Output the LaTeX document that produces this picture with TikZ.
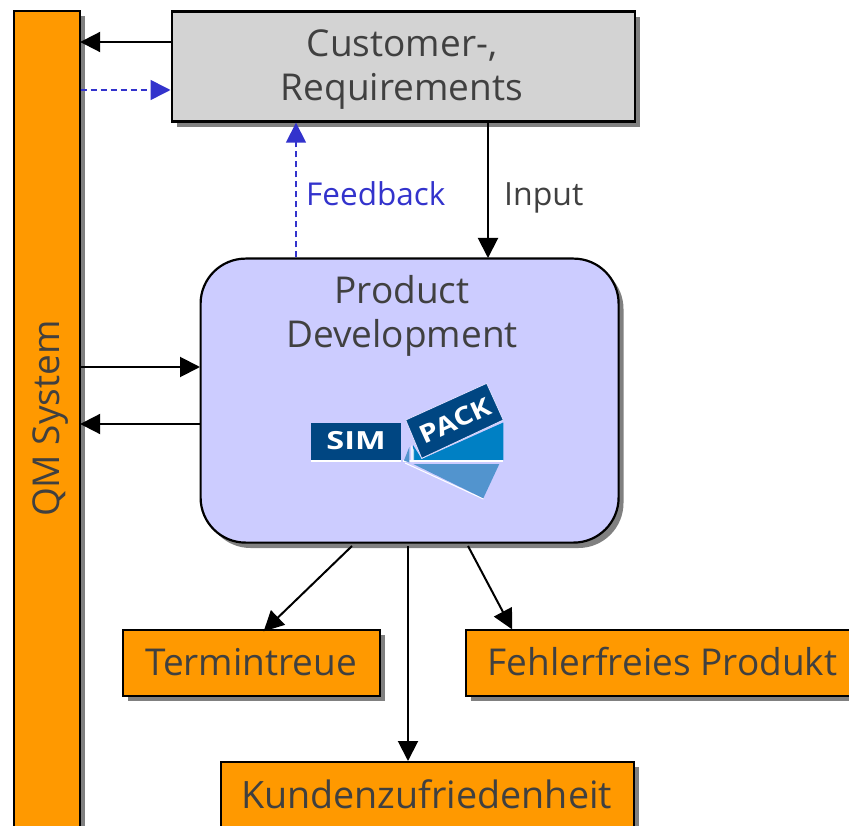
\documentclass[tikz,border=0pt]{standalone}
\usepackage{fontspec}
\usepackage{graphicx}
\setmainfont{Open Sans}
\usetikzlibrary{arrows.meta,calc}
\definecolor{qmorange}{RGB}{255,153,0}
\definecolor{boxgray}{RGB}{211,211,211}
\definecolor{devblue}{RGB}{204,204,255}
\definecolor{shadowgray}{RGB}{128,128,128}
\definecolor{labeltext}{RGB}{64,64,64}
\definecolor{fbblue}{RGB}{51,51,204}
\definecolor{simdark}{RGB}{0,70,130}
\definecolor{simmid}{RGB}{0,128,196}
\definecolor{simlight}{RGB}{82,148,206}
\tikzset{
  x=1pt,y=-1pt,
  shad/.style={fill=shadowgray,draw=none},
  boxnode/.style={draw=black,line width=2.2pt,minimum width=#1,text=labeltext,font=\fontsize{37}{44}\selectfont,inner sep=0pt,align=center},
  boxtext/.style={font=\fontsize{37}{44}\selectfont,text=labeltext,inner sep=0pt,align=center},
  arr/.style={draw=black,line width=2pt,-{Triangle[length=20pt,width=20pt]},shorten >=-0.5pt},
  fb/.style={draw=fbblue,line width=1.6pt,dash pattern=on 6pt off 4pt,-{Triangle[length=20pt,width=20pt,fill=fbblue]}},
  lab/.style={inner sep=0pt},
  logotext/.style={text=white,font=\bfseries\fontsize{25}{28}\selectfont,inner sep=0pt},
}
\begin{document}
\begin{tikzpicture}
\useasboundingbox (0,0) rectangle (849,826);
\clip (0,0) rectangle (849,826);
% shadows
\fill[shad] (19,16) rectangle (85,840);
\fill[shad] (176.5,17) rectangle (639.5,127);
\fill[shad,rounded corners=45pt] (205.5,264) rectangle (623.5,548);
\fill[shad] (127.5,635) rectangle (384.5,701);
\fill[shad] (470.5,635) rectangle (860,701);
\fill[shad] (225.5,767) rectangle (639,840);
% boxes
\node[boxnode=66pt,fill=qmorange,minimum height=830pt,anchor=north west] (qm) at (12.5,10) {};
\node[boxtext,rotate=90] (qmlabel) at (50.5,418.5) {QM System};
\node[boxnode=463pt,fill=boxgray,minimum height=110pt,anchor=north west] (cust) at (170.5,10.5) {};
\node[boxtext] (custlabel) at (402,70) {Customer-,\\Requirements};
\node[boxnode=418pt,fill=devblue,minimum height=284pt,rounded corners=45pt,anchor=north west] (dev) at (199.5,257.5) {};
\node[boxtext] (devlabel) at (402,316) {Product\\Development};
\node[boxnode=257pt,fill=qmorange,minimum height=66pt,anchor=north west] (term) at (121.5,628.5) {Termintreue};
\node[boxnode=400pt,fill=qmorange,minimum height=66pt,anchor=north west] (fehler) at (464.5,628.5) {};
\node[boxtext] (fehlerlabel) at (662.5,662) {Fehlerfreies Produkt};
\node[boxnode=413pt,fill=qmorange,minimum height=80pt,anchor=north west] (kunden) at (219.5,760.5) {};
\node[boxtext,font=\fontsize{37.7}{44}\selectfont] (kundenlabel) at (426.5,794.5) {Kundenzufriedenheit};
% connectors
\draw[arr] (cust.west |- 0,42) -- (qm.east |- 0,42);
\draw[fb] (qm.east |- 0,90) -- (cust.west |- 0,90);
\draw[arr] (qm.east |- 0,367) -- (dev.west |- 0,367);
\draw[arr] (dev.west |- 0,424) -- (qm.east |- 0,424);
\draw[fb] (296,0 |- dev.north) -- (296,0 |- cust.south);
\draw[arr] (488,0 |- cust.south) -- (488,0 |- dev.north);
\coordinate (d1) at (352,546);
\coordinate (d2) at (408,546);
\coordinate (d3) at (468,546);
\coordinate (t1) at (264,631);
\coordinate (t3) at (512,629);
\draw[arr] (d1) -- (t1);
\draw[arr] (d2) -- (d2 |- kunden.north);
\draw[arr] (d3) -- (t3);
% labels
\node[lab,text=fbblue,anchor=west,font=\fontsize{31.5}{36}\selectfont] (feedback) at (306,194) {Feedback};
\node[lab,text=labeltext,anchor=west,font=\fontsize{32}{36}\selectfont] (input) at (504,198) {Input};
% logo
\fill[simdark] (311,422.7) rectangle (400.7,460);
\node[logotext] (sim) at (356,441) {\scalebox{1.3}[1]{SIM}};
\fill[white] (311,460) rectangle (400.7,462);
\fill[simmid] (413,445) -- (421.7,459) -- (503.3,422.5) -- (503.3,460) -- (413,460) -- cycle;
\fill[white] (403,460) rectangle (503.3,462);
\fill[simlight] (409.3,447) -- (404,460.5) -- (409.3,462.5) -- cycle;
\fill[white,opacity=.7] (411,445) -- (411,462) -- (414,462) -- (414,450) -- cycle;
\draw[white,line width=1pt] (405,463) -- (483.5,499);
\fill[simlight] (413.3,464) -- (499.3,464) -- (483.3,498.3) -- cycle;
\fill[simdark,draw=devblue!60!white,line width=.8pt] (405.7,420) -- (486.7,383.3) -- (503.3,420) -- (421.7,458.3) -- cycle;
\node[logotext,rotate=24.5] (pack) at (455,420.5) {\scalebox{1.18}[1]{PACK}};
\end{tikzpicture}
\end{document}
